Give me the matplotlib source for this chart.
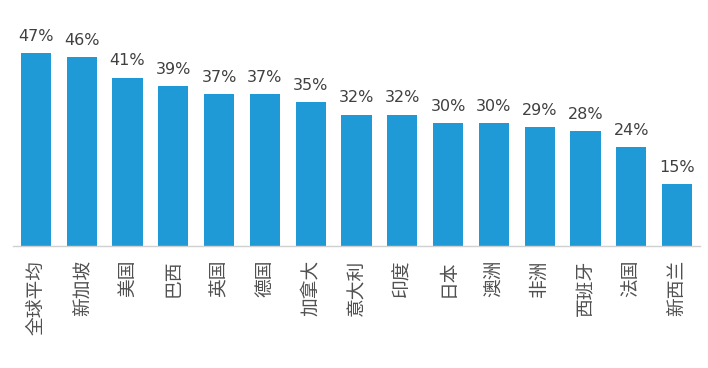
import matplotlib
matplotlib.use("Agg")
import matplotlib.pyplot as plt

# data
countries = ["全球平均", "新加坡", "美国", "巴西", "英国", "德国", "加拿大", "意大利",
             "印度", "日本", "澳洲", "非洲", "西班牙", "法国", "新西兰"]
values = [47, 46, 41, 39, 37, 37, 35, 32, 32, 30, 30, 29, 28, 24, 15]

plt.rcParams['font.family'] = ['Noto Sans CJK SC', 'DejaVu Sans']

fig = plt.figure(figsize=(7.08, 3.68), dpi=100)
ax = fig.add_axes([13 / 708, 122 / 368, 687 / 708, 226 / 368])

x = range(len(countries))
ax.bar(x, values, width=0.66, color="#1f9ad6")

for i, v in enumerate(values):
    ax.text(i, v + 2.2, f"{v}%", ha="center", va="bottom", fontsize=11.5,
            color="#404040", family="DejaVu Sans")

ax.set_xlim(-0.5, len(countries) - 0.5)
ax.set_ylim(0, 55)
ax.set_xticks(list(x))
ax.set_xticklabels(countries, rotation=90, fontsize=13.5, color="#505050", va="top")
ax.tick_params(axis="x", length=0, pad=10)
ax.set_yticks([])

for side in ["top", "right", "left"]:
    ax.spines[side].set_visible(False)
ax.spines["bottom"].set_color("#d0d0d0")
ax.spines["bottom"].set_linewidth(1)

fig.savefig("out.png", dpi=100)
